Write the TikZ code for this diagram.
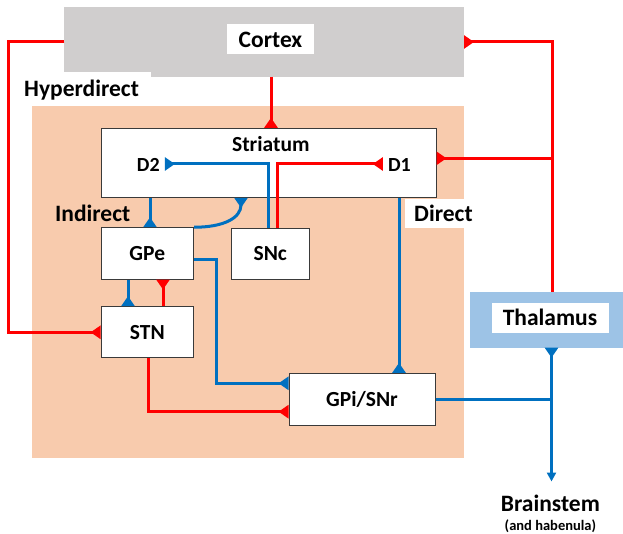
\documentclass[tikz,border=0pt]{standalone}
\usepackage{fontspec}
\setmainfont{Carlito}
\usetikzlibrary{arrows.meta}
\definecolor{ctxgray}{HTML}{D0CECE}
\definecolor{peach}{HTML}{F8CBAD}
\definecolor{thblue}{HTML}{9DC3E6}
\definecolor{lnblue}{HTML}{0070C0}
\definecolor{lnred}{HTML}{FF0000}
\definecolor{boxgray}{HTML}{3A3A3A}
\newcommand\bigf{\fontsize{23.5}{28}\selectfont\bfseries}
\newcommand\boxf{\fontsize{21.5}{26}\selectfont\bfseries}
\newcommand\dfont{\fontsize{20}{24}\selectfont\bfseries}
\newcommand\smallf{\fontsize{14.5}{18}\selectfont\bfseries}
\begin{document}
\begin{tikzpicture}[x=1pt,y=-1pt,
  redln/.style={draw=lnred,line width=3pt},
  blueln/.style={draw=lnblue,line width=3pt},
  syn/.style={-{Triangle[reversed,length=10pt,width=13pt]}},
  arr/.style={-{Triangle[length=9pt,width=9pt]}},
  bx/.style={draw=boxgray,line width=1pt,fill=white,inner sep=0pt,font=\boxf},
  area/.style={inner sep=0pt,outer sep=0pt,draw=none}]
\useasboundingbox (0,0) rectangle (623,534);

% background areas
\node[area,fill=ctxgray,minimum width=399.6pt,minimum height=69.4pt] (ctx) at (264.2,42) {};
\node[fill=white,font=\bigf,anchor=base west,inner xsep=12pt,inner ysep=8pt] (hd) at (12,96.7) {Hyperdirect};
\node[area,fill=peach,minimum width=432.2pt,minimum height=352.3pt] (bg) at (247.9,282.15) {};
\node[area,fill=thblue,minimum width=153.5pt,minimum height=56pt] (thbg) at (546.3,319.7) {};

% labels
\node[fill=white,font=\bigf,minimum width=87pt,minimum height=30pt,inner sep=0pt] (ctxl) at (270.5,39.5) {Cortex};
\node[fill=white,font=\bigf,minimum width=117pt,minimum height=30pt,inner sep=0pt] (thl) at (550,317.7) {Thalamus};
\node[font=\bigf,anchor=base,inner sep=0pt] (ind) at (92.7,221.7) {Indirect};
\node[fill=white,font=\bigf,anchor=base west,inner xsep=9.5pt,inner ysep=6pt] (dir) at (404.5,221.7) {Direct};
\node[font=\bigf,anchor=base,inner sep=0pt,outer ysep=13pt] (bs) at (550.4,511) {Brainstem};
\node[font=\smallf,inner sep=0pt] (hab) at (550.4,526.5) {(and habenula)};

% boxes
\node[bx,minimum width=335pt,minimum height=69pt] (str) at (268.5,162.8) {};
\node[font=\boxf,anchor=base,inner sep=0pt] (strl) at (270.8,151.5) {Striatum};
\node[font=\dfont,anchor=base,inner xsep=5pt,inner ysep=0pt] (d2) at (148.3,171.5) {D2};
\node[font=\dfont,anchor=base,inner xsep=5pt,inner ysep=0pt] (d1) at (399.4,171.5) {D1};
\node[bx,minimum width=92.5pt,minimum height=51.3pt] (gpe) at (147.3,253.4) {GPe};
\node[bx,minimum width=77.4pt,minimum height=51pt] (snc) at (270.3,253.8) {SNc};
\node[bx,minimum width=92.5pt,minimum height=51.3pt] (stn) at (147.3,332.3) {STN};
\node[bx,minimum width=146pt,minimum height=51.7pt] (gpi) at (362,399.2) {GPi/SNr};

% helper coordinates
\coordinate (xc) at (271,0);
\coordinate (hL) at (8.7,200);
\coordinate (rX) at (552,0);
\coordinate (rS) at (552,158.3);
\coordinate (xsg) at (150,0);
\coordinate (xcv) at (241,0);
\coordinate (xb) at (268,0);
\coordinate (xr) at (277,0);
\coordinate (yD) at (0,164);
\coordinate (xdir) at (399,0);
\coordinate (xgs) at (128,0);
\coordinate (xsg2) at (163,0);
\coordinate (yge) at (0,259.3);
\coordinate (jx) at (216,300);
\coordinate (ygi1) at (0,383.3);
\coordinate (xst) at (148,0);
\coordinate (ygi2) at (0,411.7);
\coordinate (bX) at (551.5,0);

% red connectors
\draw[redln,syn] (ctx.south -| xc) -- (str.north -| xc);
\draw[redln,syn] (ctx.west) -| (hL) |- (stn.west);
\draw[redln,syn] (thbg.north -| rX) |- (ctx.east);
\draw[redln,syn] (rS) -- (str.east |- rS);
\draw[redln,syn] (snc.north -| xr) |- (d1.west |- yD);
\draw[redln,syn] (stn.north -| xsg2) -- (gpe.south -| xsg2);
\draw[redln,syn] (stn.south -| xst) |- (gpi.west |- ygi2);

% blue connectors
\draw[blueln,syn] (snc.north -| xb) |- (d2.east |- yD);
\draw[blueln,syn] (str.south -| xsg) -- (gpe.north -| xsg);
\draw[blueln,syn] (gpe.north east) .. controls +(30,0) and +(0,20) .. (str.south -| xcv);
\draw[blueln,syn] (str.south -| xdir) -- (gpi.north -| xdir);
\draw[blueln,syn] (gpe.south -| xgs) -- (stn.north -| xgs);
\draw[blueln,syn] (gpe.east |- yge) -| (jx) |- (gpi.west |- ygi1);
\draw[blueln,syn] (gpi.east) -| (thbg.south -| bX);
\draw[blueln,arr] (gpi.east -| bX) -- (bs.north -| bX);
\end{tikzpicture}
\end{document}
